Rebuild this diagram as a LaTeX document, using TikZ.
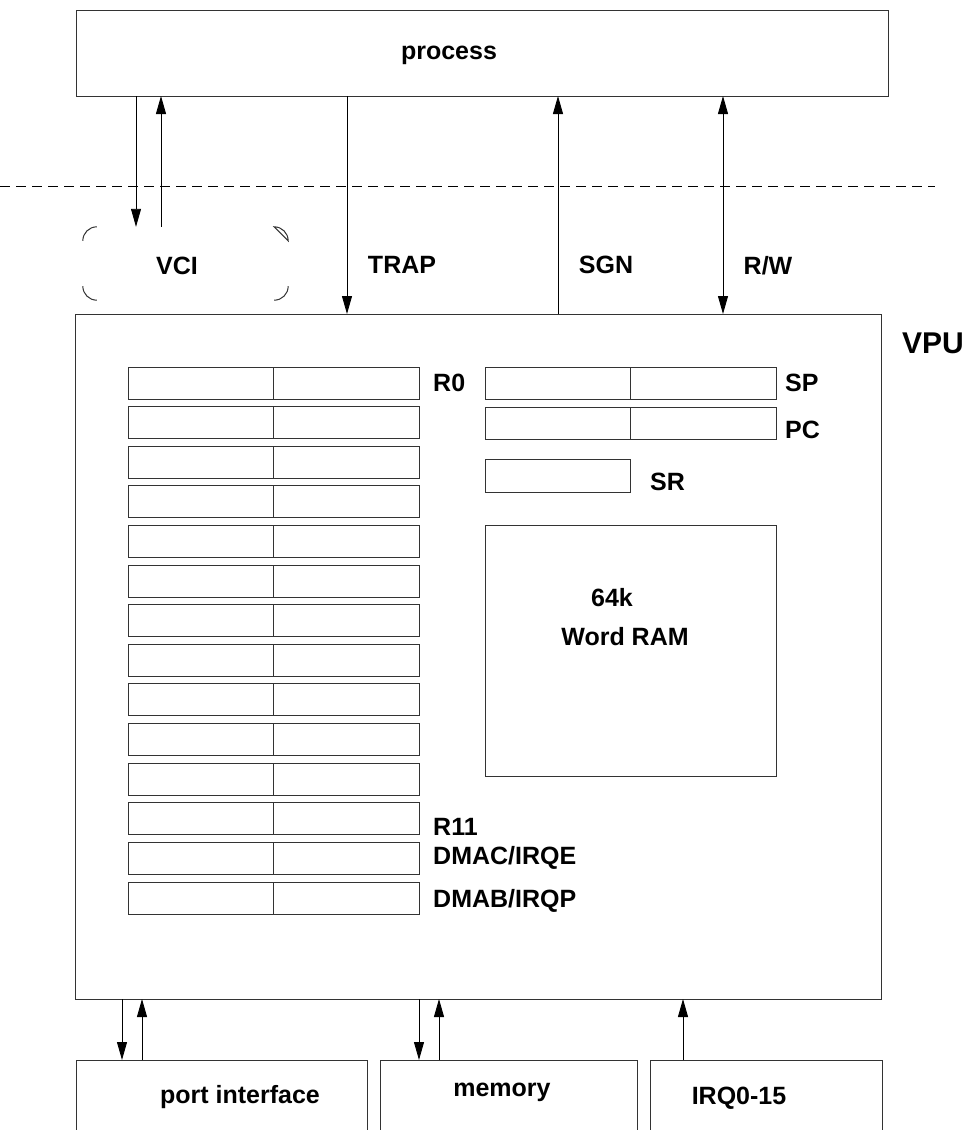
\documentclass[tikz,border=0pt]{standalone}
\usepackage{fontspec}
\setmainfont{Liberation Sans}
\usetikzlibrary{arrows.meta,calc}
\tikzset{
  box/.style={draw=black!80, line width=1pt, rectangle, inner sep=0pt, outer sep=0pt},
  reg/.style={box, minimum width=291pt, minimum height=32pt},
  lbl/.style={inner sep=0pt, font=\fontsize{25}{30}\selectfont\bfseries},
  lblw/.style={lbl, anchor=west},
  conn/.style={line width=0.9pt, -{Triangle[length=18pt,width=10pt]}},
  conn2/.style={line width=0.9pt, {Triangle[length=18pt,width=10pt]}-{Triangle[length=18pt,width=10pt]}},
}
\begin{document}
\begin{tikzpicture}[x=1pt,y=-1pt]
\clip (0,0) rectangle (974,1130);
\fill[white] (0,0) rectangle (974,1130);

% main boxes
\node[box, minimum width=812pt, minimum height=86pt] (proc) at (482,53) {};
\node[lbl] (proct) at (449,55) {process};
\node[box, minimum width=806pt, minimum height=685pt] (vpu) at (478.5,656.5) {};
\node[lbl, font=\fontsize{30}{36}\selectfont\bfseries] (vput) at (933,343) {VPU};

% separator
\coordinate (dl) at (0,186);
\coordinate (dr) at (935,186);
\draw[black, line width=0.9pt, dash pattern=on 10pt off 6pt] (dl) -- (dr);

% VCI (corners only)
\node[inner sep=0pt, minimum width=205pt, minimum height=73pt] (vci) at (185.5,263.5) {};
\node[lbl] (vcit) at (177,266) {VCI};
\draw[black!80, line width=1pt] (vci.north west) ++(0,14) arc[start angle=180,end angle=90,radius=14pt];
\draw[black!80, line width=1pt] (vci.south west) ++(0,-14) arc[start angle=180,end angle=270,radius=14pt];
\draw[black!80, line width=1pt] (vci.south east) ++(-14,0) arc[start angle=270,end angle=360,radius=14pt];
\draw[black!80, line width=1pt] (vci.north east) ++(0,14) arc[start angle=0,end angle=90,radius=14pt] -- cycle;

% top connectors
\coordinate (xv1) at (136,0);
\coordinate (xv2) at (161,0);
\coordinate (xtrap) at (347,0);
\coordinate (xsgn) at (558,0);
\coordinate (xrw) at (723,0);
\draw[conn] (proc.south -| xv1) -- (vci.north -| xv1);
\draw[conn] (vci.north -| xv2) -- (proc.south -| xv2);
\draw[conn] (proc.south -| xtrap) -- (vpu.north -| xtrap);
\draw[conn] (vpu.north -| xsgn) -- (proc.south -| xsgn);
\draw[conn2] (proc.south -| xrw) -- (vpu.north -| xrw);
\node[lbl] (trapt) at (402,265) {TRAP};
\node[lbl] (sgnt) at (606,265) {SGN};
\node[lbl] (rwt) at (768,266) {R/W};

% register file
\foreach \i in {0,...,13}{
  \node[reg] (reg\i) at (273.5,{383+\i*39.62}) {};
  \draw[black!80, line width=1pt] (reg\i.north) -- (reg\i.south);
}
\node[lblw] (r0t) at (433,383) {R0};
\node[lblw] (r11t) at (433,827) {R11};
\node[lblw] (dmact) at (433,858) {DMAC/IRQE};
\node[lblw] (dmabt) at (433,901) {DMAB/IRQP};

% SP, PC, SR
\node[reg] (sp) at (630.5,383.5) {};
\draw[black!80, line width=1pt] (sp.north) -- (sp.south);
\node[reg] (pc) at (630.5,423) {};
\draw[black!80, line width=1pt] (pc.north) -- (pc.south);
\node[box, minimum width=145pt, minimum height=33pt] (sr) at (557.5,475.5) {};
\node[lblw] (spt) at (785,383) {SP};
\node[lblw] (pct) at (785,430) {PC};
\node[lblw] (srt) at (650,482) {SR};

% RAM
\node[box, minimum width=291pt, minimum height=251pt] (ram) at (630.5,650.5) {};
\node[lbl] (ram1) at (612,598) {64k};
\node[lbl] (ram2) at (625,637) {Word RAM};

% bottom boxes
\node[box, minimum width=291pt, minimum height=120pt] (port) at (221.5,1120) {};
\node[box, minimum width=257pt, minimum height=120pt] (mem) at (508.5,1120) {};
\node[box, minimum width=232pt, minimum height=120pt] (irq) at (766,1120) {};
\node[lbl] (portt) at (240,1097) {port interface};
\node[lbl] (memt) at (502,1092) {memory};
\node[lbl] (irqt) at (739,1098) {IRQ0-15};

% bottom connectors
\coordinate (xp1) at (122,0);
\coordinate (xp2) at (142,0);
\coordinate (xm1) at (419,0);
\coordinate (xm2) at (439,0);
\coordinate (xi) at (683,0);
\draw[conn] (vpu.south -| xp1) -- (port.north -| xp1);
\draw[conn] (port.north -| xp2) -- (vpu.south -| xp2);
\draw[conn] (vpu.south -| xm1) -- (mem.north -| xm1);
\draw[conn] (mem.north -| xm2) -- (vpu.south -| xm2);
\draw[conn] (irq.north -| xi) -- (vpu.south -| xi);
\end{tikzpicture}
\end{document}
